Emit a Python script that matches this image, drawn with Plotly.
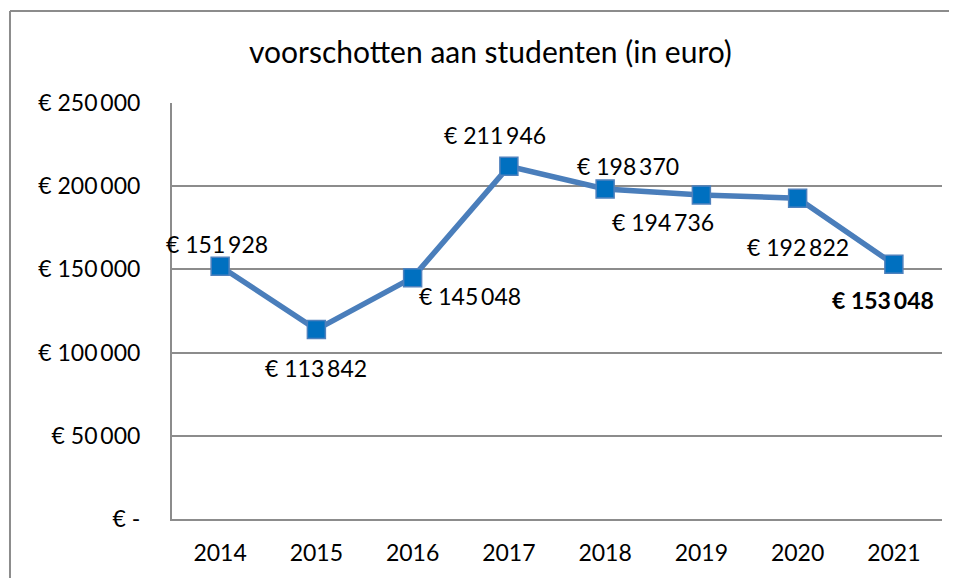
import plotly.graph_objects as go

years = ["2014", "2015", "2016", "2017", "2018", "2019", "2020", "2021"]
values = [151928, 113842, 145048, 211946, 198370, 194736, 192822, 153048]
y_ticks = [0, 50000, 100000, 150000, 200000, 250000]
title = "voorschotten aan studenten (in euro)"

FONT = "Lato, Carlito, Calibri, sans-serif"
TS = "\u2009"


def euro(v):
    if v == 0:
        return "€ -"
    return "€ " + f"{v:,}".replace(",", TS)


# label offsets (style) per point: (xshift, yshift)
label_offsets = [(-3, 22), (0, -38), (57, -18), (-14, 31), (23, 23), (-38, -27), (0, -49), (-11, -36)]

fig = go.Figure()
fig.add_trace(go.Scatter(
    x=list(range(len(years))), y=values, mode="lines+markers",
    line=dict(color="#4A7EBB", width=5.5),
    marker=dict(symbol="square", size=18, color="#0070C0", line=dict(color="#4F81BD", width=1.5)),
    hoverinfo="skip",
))

for i, (v, off) in enumerate(zip(values, label_offsets)):
    last = i == len(values) - 1
    fig.add_annotation(
        x=i, y=v, xref="x", yref="y", text=("<b>" + euro(v) + "</b>") if last else euro(v),
        showarrow=False, xshift=off[0], yshift=off[1],
        font=dict(family=FONT, size=23, color="#000000"),
    )

# title
fig.add_annotation(x=0.413, y=1.125, xref="paper", yref="paper", text=title, showarrow=False,
                   xanchor="center", yanchor="middle",
                   font=dict(family=FONT, size=30, color="#000000"))

# outer chart border (left and top edges visible in the crop)
border = dict(color="#8C8C8C", width=2)
fig.add_shape(type="line", xref="paper", yref="paper", x0=-0.2104, x1=-0.2104, y0=-0.3, y1=1.221,
              line=border, layer="below")
fig.add_shape(type="line", xref="paper", yref="paper", x0=-0.2104, x1=1.15, y0=1.221, y1=1.221,
              line=border, layer="below")

fig.update_layout(
    width=949, height=570,
    margin=dict(l=164, r=15, t=95, b=59),
    paper_bgcolor="white", plot_bgcolor="white",
    showlegend=False,
    xaxis=dict(range=[-0.5, 7.5], tickvals=list(range(len(years))), ticktext=years,
               showgrid=False, zeroline=False, showline=True, linecolor="#8C8C8C", linewidth=2,
               ticks="", tickfont=dict(family=FONT, size=23, color="#000000"), ticklabelstandoff=12,
               fixedrange=True),
    yaxis=dict(range=[0, 250000], tickvals=y_ticks, ticktext=[euro(t) for t in y_ticks],
               showgrid=True, gridcolor="#8C8C8C", gridwidth=2, zeroline=False,
               showline=True, linecolor="#8C8C8C", linewidth=2, ticks="",
               tickfont=dict(family=FONT, size=23, color="#000000"), ticklabelstandoff=25,
               fixedrange=True),
)

fig.write_html("out.html")
